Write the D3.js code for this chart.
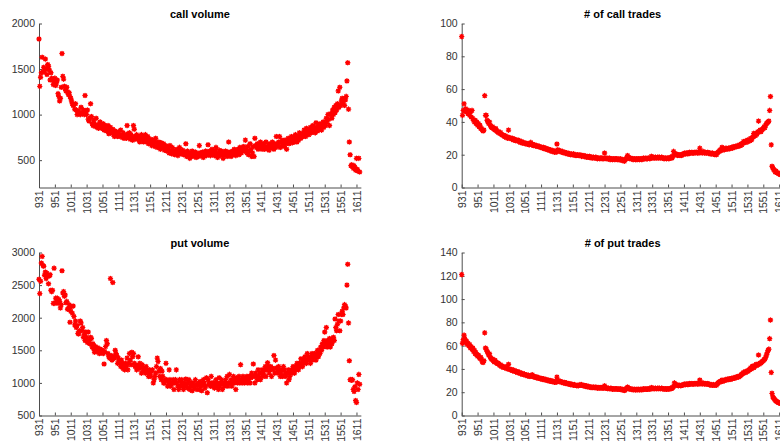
<!DOCTYPE html>
<html><head><meta charset="utf-8">
<script src="https://cdn.jsdelivr.net/npm/d3@7"></script>
<style>body{margin:0;background:#fff}svg{display:block}</style>
</head><body>
<svg id="c" width="780" height="444"></svg>
<script>
const tickLabels = ["931","951","1011","1031","1051","1111","1131","1151","1211","1231","1251","1311","1331","1351","1411","1431","1451","1511","1531","1551","1611"];

const callVolume = [
1830,1310,1410,1460,1630,1470,1520,1480,1610,1500,1440,1550,1530,1490,1380,1460,1400,1380,1330,1370,
1400,1320,1350,1380,1230,1200,1150,1180,1300,1670,1420,1390,1310,1280,1260,1300,1250,1220,1240,1200,
1180,1150,1120,1100,1110,1060,1120,1050,1000,1020,1040,1010,1000,1080,1020,1010,1050,1000,1210,1040,
1000,1050,950,930,960,1120,980,900,880,940,900,870,960,860,880,850,900,920,880,850,
870,900,830,880,860,820,850,880,790,820,860,810,800,840,780,760,820,790,800,760,
810,780,760,830,770,750,800,740,780,760,740,880,790,760,800,730,780,750,720,880,
840,760,730,780,740,760,720,700,750,780,730,760,700,740,780,720,700,760,680,720,
700,730,660,700,680,720,650,740,690,640,680,700,660,620,690,650,640,680,610,660,
640,600,650,620,580,660,600,570,640,590,610,560,600,580,620,550,590,640,570,600,
580,610,560,590,570,680,540,600,560,580,520,570,550,600,540,580,560,590,530,560,
570,540,660,580,550,560,590,530,570,560,600,550,580,670,560,600,550,580,620,560,
590,550,600,640,570,530,560,610,580,550,600,560,520,580,560,600,570,540,590,700,
560,590,540,580,600,560,620,580,550,600,580,620,560,640,600,580,640,610,650,600,
720,620,580,650,560,600,680,620,540,580,650,540,740,660,640,680,620,660,640,700,
660,620,640,680,620,650,700,640,620,660,610,680,650,640,700,660,620,680,640,760,
680,650,700,760,640,690,720,660,700,650,720,680,620,700,740,680,720,700,760,690,
720,750,700,780,740,700,760,720,800,760,740,790,780,760,830,800,760,850,790,820,
780,820,860,800,840,880,820,860,800,910,850,820,880,840,900,860,830,880,920,860,
900,880,960,920,1000,950,880,1010,1000,960,1050,1000,1080,1020,1100,1050,1120,1260,1080,1300,
1100,1150,1180,1120,1170,1100,1160,1200,1370,1570,1060,700,560,440,450,430,410,440,420,390,
520,400,380,520,370];

const callTrades = [
92,44,47,51,47,48,46,47,45,47,44,46,43,47,42,41,40,41,39,40,
38,39,37,38,36,36,35,34.5,35,56,44,44,41,40,39,40,38,37,36.5,37,
36,35.5,35,36,34.5,34,33.5,34,33,33.5,32.5,32,32,31.5,31,31.5,30.5,31,30,35,
30.5,30,30,29.5,30,29,29.5,29,28.5,29,28.5,29,28,28.5,27.5,28,27.5,27,27.5,27,
27,26.5,27,26.5,26.5,26,26.5,27.5,26,26.5,26,25.5,26,25.5,25.5,25,25.5,25,25,24.5,
24.5,24.5,24,24.5,24,23.5,24,23.5,23,23.5,23,22.5,23,22.5,22,22.5,22,21.5,22,21.5,
26.5,23,22.5,22.5,22,22,21.5,22,21.5,21,21.5,21,21,20.5,21,20.5,20.5,20,20.5,20,
20,20.5,20,19.5,20,19.5,20,19.5,19.5,20,19.5,19,19.5,19,19.5,19,19,18.5,19,18.5,
18.5,19,18.5,18,18.5,18,18.5,18,18,18.5,18,17.5,18,18,17.5,18,18,17.5,18,17.5,
21,18,17.5,18,17.5,17.5,18,17,17.5,17.5,17,17.5,17.5,17,17.5,17.5,17,17.5,17,17,
17.5,17,16.5,17,16.5,16,17,17.5,18,19.5,18.5,18,17.5,18,17.5,17.5,17,17.5,17.5,17,
17.5,17,17.5,17.5,17,17.5,17.5,17,17.5,18,17.5,17.5,18,17.5,17.5,18,18,17.5,18,19,
18,18.5,18,18,18.5,18,18,18.5,18,18.5,18,18,18.5,18,18,17.5,18,18,17.5,18,
18,17.5,18,18.5,18,18,19,22,20.5,20,20.5,20,19.5,20,20,19.5,20,19.5,20,20.5,
20.5,21,20.5,21,21,20.5,21,21.5,21,21,21.5,21,21,21.5,21,21.5,21.5,21,21.5,21,
24,21.5,21.5,21,22,21.5,21,21.5,21,21,21.5,21,21,20.5,21,20.5,21,20.5,20.5,20,
20.5,20,21,21.5,22,22.5,23,22.5,24.5,23,23.5,23,23.5,24,23.5,23.5,24,23.5,24,24,
24.5,24,24.5,25,24.5,25,25,25.5,25,25.5,26,25.5,26.5,26,27,28,27.5,28,27.5,28.5,
29,28,29,28.5,30,29,30,31,33,32,31.5,33,32.5,34,40.5,34,35,34,35,35.5,
36,37,36.5,38,39,39.5,40,40.5,47,55.5,26,13,12,11,10.5,9.5,10,9,9,8.5,
8.5,8,8,8,8];

const putVolume = [
2590,2370,2560,2840,2940,2800,2790,2650,2700,2600,2680,2650,2520,2640,2660,2420,2400,2420,2220,2760,
2220,2300,2250,2300,2220,2280,2250,2150,2200,2720,2380,2400,2330,2350,2230,2250,2130,2140,2200,1930,
2100,2170,2070,2180,2020,1890,1950,1850,1880,1760,1750,1800,1950,1920,1800,1850,1700,1740,1650,1780,
1700,1620,1780,1650,1600,1700,1680,1550,1600,1520,1470,1560,1500,1480,1540,1500,1450,1520,1460,1500,
1500,1450,1290,1480,1560,1650,1600,1450,1400,1380,2600,1420,1350,2540,1400,1380,1500,1450,1420,1300,
1380,1340,1300,1250,1350,1300,1220,1280,1200,1300,1250,1380,1200,1300,1450,1350,1280,1470,1400,1450,
1300,1250,1280,1200,1260,1400,1220,1300,1250,1150,1280,1200,1230,1180,1150,1250,1200,1150,1100,1200,
1150,1100,1180,1200,1000,1050,1100,1150,1250,1380,1330,1180,1100,1220,1050,1180,1100,1000,1000,1050,
1300,1050,950,1000,1200,1050,950,980,1000,1050,900,1000,1050,1200,1000,950,900,1050,950,1000,
1050,950,900,1000,950,1060,980,920,1000,1050,900,950,1000,880,1000,950,920,1050,980,900,
960,1000,900,1020,950,880,980,1050,1000,920,950,1080,850,1050,980,1000,950,1100,1000,950,
1000,920,980,1050,950,1000,900,1080,950,1000,1050,900,980,1000,950,1050,1000,1100,950,1000,
1130,1000,1050,950,1020,1100,1000,1050,900,1080,1000,1050,1100,1000,1280,1050,1000,1100,1050,1000,
1080,1050,1100,1000,1050,1100,1000,1080,1150,1100,1290,1100,1000,1150,1100,1050,1200,1100,1150,1050,
1150,1200,1100,1150,1200,1250,1100,1200,1310,1250,1150,1200,1250,1100,1230,1200,1420,1150,1350,1230,
1200,1150,1250,1200,1100,1150,1200,1100,1250,1200,1150,1100,1000,1150,1200,1050,1100,1150,1200,1150,
1250,1200,1150,1250,1200,1300,1250,1200,1300,1250,1370,1300,1250,1350,1300,1400,1350,1300,1450,1350,
1400,1350,1300,1400,1450,1350,1400,1450,1400,1350,1450,1500,1400,1500,1450,1550,1500,1600,1550,1650,
1780,1600,1850,1550,1650,1600,1680,1550,1650,1600,1680,1700,1650,1980,1850,1800,1900,2050,1950,1800,
1950,2050,2100,2050,2150,2200,2180,2150,2500,2820,1920,1340,1050,1050,1040,1050,900,870,940,730,
700,1000,900,1130,980];

const putTrades = [
121,62,65,69,66,63,64,61,62,60,61,58,59,57,58,55,56,53,54,52,
51,52,50,49,50,48,46,45.5,47,71,58,57,55,54,52,53,50,49,48,48.5,
47,46,47.5,46,45,44.5,45,44,43,43.5,42,42.5,41.5,42,41,41.5,40.5,41,40,44,
40,39.5,39,39.5,38.5,39,38,38.5,37.5,38,37,37.5,36.5,37,36,36.5,35.5,36,35,35.5,
35,34.5,35,34,34.5,34,33.5,34,34.5,35,33.5,33,33.5,33,32.5,33,32,32.5,32,31.5,
32,31.5,31,31.5,31,30.5,31,30.5,30,30.5,30,29.5,30,29.5,29,29.5,29,28.5,29,28.5,
33,30,29.5,29,29.5,29,28.5,28.5,28,28.5,28,27.5,28,27.5,27,27.5,27,26.5,27,26.5,
26.5,26,26.5,26,26,25.5,26,25.5,26,26.5,26,26.5,26,25.5,26,25.5,25,25.5,25,24.5,
25,24.5,24.5,24,24.5,24,24.5,24,24,24.5,24,23.5,24,24,23.5,24,24,23.5,24,23.5,
25.5,24,23.5,23.5,23,23.5,23,23,23.5,23,22.5,23,23,22.5,23,23,22.5,23,22.5,22.5,
23,22.5,22,22.5,22,21.5,22,23,23.5,24.5,23.5,23,22.5,23,22.5,22.5,22,22.5,22.5,22,
22.5,22,22.5,22.5,22,22.5,22.5,22,22.5,23,22.5,22.5,23,22.5,22.5,23,23,22.5,23,24,
23,23.5,23,23,23.5,23,23,23.5,23,23.5,23,23,23.5,23,23,22.5,23,23,22.5,23,
23,22.5,23,23.5,23,23.5,24,25,28,26.5,26,26.5,26,25.5,26,26,25.5,26,26,26.5,
26.5,27,26.5,27,27,26.5,27,27.5,27,27,27.5,27,27,27.5,27,27.5,27.5,27,27.5,27,
30.5,27.5,27.5,27,28,27.5,27,27.5,27,27,27.5,27,26.5,26.5,26,26.5,26,26.5,26,26,
26.5,26,27,28,28.5,29,29.5,29,30.5,29.5,30,30,30.5,31,30.5,31,31,31.5,31,31.5,
32,31.5,32,32.5,32,32.5,33,33,33.5,33,34,34,35,35.5,36,37,36.5,37.5,37,38,
38.5,38,39,39.5,41,40,42,42.5,41,42,43,44,43,44,52,44,45,45,46,46.5,
47,48,48.5,50,52,54,56,57,66,82,37,19,16,15,14,13,12.5,12,11.5,11,
11,10.5,10.5,10,10];

const callVolumeTicks = [500,1000,1500,2000];
const callTradesTicks = [0,20,40,60,80,100];
const putVolumeTicks = [500,1000,1500,2000,2500,3000];
const putTradesTicks = [0,20,40,60,80,100,120,140];

const svg = d3.select("#c");
const axisColor = "#4d4d4d";
const textColor = "#333333";
const font = "'Liberation Sans', Arial, Helvetica, sans-serif";
const pxPerIdx = 0.7937;

const panels = [
  {title:"call volume", data:callVolume, yDomain:[200,2000], ticks:callVolumeTicks, x0:39, top:23.5, bottom:187.5},
  {title:"# of call trades", data:callTrades, yDomain:[0,100], ticks:callTradesTicks, x0:461.7, top:23.5, bottom:187.5},
  {title:"put volume", data:putVolume, yDomain:[500,3000], ticks:putVolumeTicks, x0:39, top:252.5, bottom:415.5},
  {title:"# of put trades", data:putTrades, yDomain:[0,140], ticks:putTradesTicks, x0:461.7, top:252.5, bottom:415.5}
];

const star = (r) => {
  const d = r * 0.72;
  return `M${-r},0H${r}M0,${-r}V${r}M${-d},${-d}L${d},${d}M${-d},${d}L${d},${-d}`;
};

panels.forEach(p => {
  const x = d3.scaleLinear().domain([1, 406.5]).range([p.x0, p.x0 + 405.5 * pxPerIdx]);
  const y = d3.scaleLinear().domain(p.yDomain).range([p.bottom, p.top]);
  const g = svg.append("g");

  const xa = d3.axisBottom(x)
    .tickValues(tickLabels.map((t, i) => 1 + i * 20))
    .tickFormat((d, i) => tickLabels[i])
    .tickSizeInner(-3).tickSizeOuter(0);
  const gx = g.append("g").attr("transform", `translate(0,${p.bottom})`).call(xa);
  gx.selectAll("text")
    .attr("transform", "rotate(-90)")
    .attr("x", -3).attr("y", 0).attr("dy", "0.35em")
    .attr("text-anchor", "end");

  const ya = d3.axisLeft(y).tickValues(p.ticks).tickFormat(d3.format("d"))
    .tickSizeInner(-3).tickSizeOuter(0).tickPadding(4);
  const gy = g.append("g").attr("transform", `translate(${p.x0},0)`).call(ya);

  [gx, gy].forEach(a => {
    a.selectAll("path,line").attr("stroke", axisColor).attr("stroke-width", 1);
    a.selectAll("text").attr("fill", textColor).style("font-family", font).style("font-size", "10.5px");
  });

  g.append("text")
    .attr("x", (x.range()[0] + x.range()[1]) / 2)
    .attr("y", p.top - 6)
    .attr("text-anchor", "middle")
    .style("font-family", font).style("font-size", "11px").style("font-weight", "bold")
    .attr("fill", "#000")
    .text(p.title);

  g.append("g").selectAll("path")
    .data(p.data)
    .join("path")
    .attr("transform", (d, i) => `translate(${x(i + 1)},${y(d)})`)
    .attr("d", star(2.1))
    .attr("stroke", "#ff0000")
    .attr("stroke-width", 1.4)
    .attr("stroke-linecap", "round")
    .attr("fill", "none");
});
</script>
</body></html>
